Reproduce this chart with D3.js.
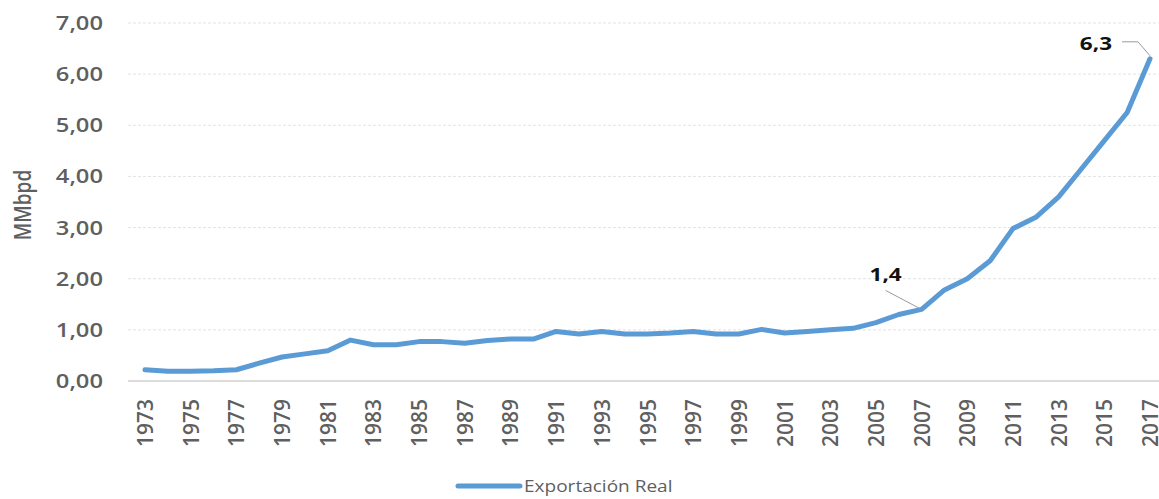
<!DOCTYPE html>
<html>
<head>
<meta charset="utf-8">
<script src="https://cdn.jsdelivr.net/npm/d3@7"></script>
<style>
  body { margin: 0; background: #fff; }
  text { font-family: "Open Sans", "DejaVu Sans", sans-serif; }
</style>
</head>
<body>
<div id="chart"></div>
<script>
// data
const years = d3.range(1973, 2018);
const exportacion = [
    0.22, 0.19, 0.19, 0.20, 0.22, 0.35, 0.47, 0.53, 0.59, 0.80,
    0.71, 0.71, 0.77, 0.77, 0.74, 0.79, 0.82, 0.82, 0.97, 0.92,
    0.97, 0.92, 0.92, 0.94, 0.97, 0.92, 0.92, 1.01, 0.94, 0.97,
    1.00, 1.03, 1.14, 1.30, 1.40, 1.78, 2.00, 2.35, 2.98, 3.20,
    3.60, 4.15, 4.70, 5.25, 6.30
];
const yTicks = [0, 1, 2, 3, 4, 5, 6, 7];
const callouts = [
    { year: 2007, label: "1,4" },
    { year: 2017, label: "6,3" }
];

const width = 1159, height = 499;
const grey = "#5f5f5f";
const blue = "#5b9bd5";
const stretch = 1.25; // the source image is wider than tall, text looks stretched

const svg = d3.select("#chart").append("svg")
    .attr("width", width)
    .attr("height", height);

const x = d3.scalePoint()
    .domain(years)
    .range([145, 1150]);

const y = d3.scaleLinear()
    .domain([0, 7])
    .range([381, 23]);

const fmt = d => d3.format(".2f")(d).replace(".", ",");

// grid
svg.append("g")
    .selectAll("line")
    .data(yTicks.filter(d => d > 0))
    .join("line")
    .attr("x1", 128).attr("x2", width)
    .attr("y1", d => y(d)).attr("y2", d => y(d))
    .attr("stroke", "#e3e3e3")
    .attr("stroke-dasharray", "3,2");

// baseline
svg.append("line")
    .attr("x1", 128).attr("x2", width)
    .attr("y1", y(0)).attr("y2", y(0))
    .attr("stroke", "#d0d0d0")
    .attr("stroke-width", 1.5);

// y tick labels
svg.append("g")
    .selectAll("text")
    .data(yTicks)
    .join("text")
    .attr("transform", d => `translate(103,${y(d) + 7}) scale(${stretch},1)`)
    .attr("text-anchor", "end")
    .attr("fill", grey)
    .attr("font-size", 19)
    .attr("font-weight", 600)
    .text(fmt);

// y axis title
svg.append("text")
    .attr("transform", `translate(31,205) scale(${stretch},1) rotate(-90)`)
    .attr("text-anchor", "middle")
    .attr("fill", grey)
    .attr("font-size", 19)
    .attr("font-weight", 600)
    .text("MMbpd");

// x tick labels, every other year
svg.append("g")
    .selectAll("text")
    .data(years.filter((d, i) => i % 2 === 0))
    .join("text")
    .attr("transform", d => `translate(${x(d) + 8},399) scale(1.3,1) rotate(-90)`)
    .attr("text-anchor", "end")
    .attr("fill", grey)
    .attr("font-size", 16)
    .attr("font-weight", 600)
    .attr("textLength", 48)
    .attr("lengthAdjust", "spacingAndGlyphs")
    .text(d => d);

// series
const line = d3.line()
    .x((d, i) => x(years[i]))
    .y(d => y(d));

svg.append("path")
    .datum(exportacion)
    .attr("fill", "none")
    .attr("stroke", blue)
    .attr("stroke-width", 5)
    .attr("stroke-linejoin", "round")
    .attr("stroke-linecap", "round")
    .attr("d", line);

// callouts
callouts.forEach(c => {
    const px = x(c.year), py = y(exportacion[years.indexOf(c.year)]);
    const g = svg.append("g");
    let path, tx, ty, anchor;
    if (c.year === 2017) {
        path = `M${px},${py - 3} L${px - 12},${py - 17} L${px - 28},${py - 17}`;
        tx = px - 38; ty = py - 9; anchor = "end";
    } else {
        path = `M${px - 2},${py - 1} L${px - 36},${py - 19}`;
        tx = px - 36; ty = py - 28; anchor = "middle";
    }
    g.append("path")
        .attr("d", path)
        .attr("fill", "none")
        .attr("stroke", "#9a9a9a");
    g.append("text")
        .attr("transform", `translate(${tx},${ty}) scale(${stretch},1)`)
        .attr("text-anchor", anchor)
        .attr("font-size", 18)
        .attr("font-weight", "bold")
        .attr("fill", "#111")
        .text(c.label);
});

// legend
const legend = svg.append("g").attr("transform", "translate(458,486)");
legend.append("line")
    .attr("x1", 0).attr("x2", 62)
    .attr("stroke", blue)
    .attr("stroke-width", 5)
    .attr("stroke-linecap", "round");
legend.append("text")
    .attr("transform", `translate(66,6) scale(1.12,1)`)
    .attr("fill", grey)
    .attr("font-size", 17)
    .text("Exportación Real");
</script>
</body>
</html>
